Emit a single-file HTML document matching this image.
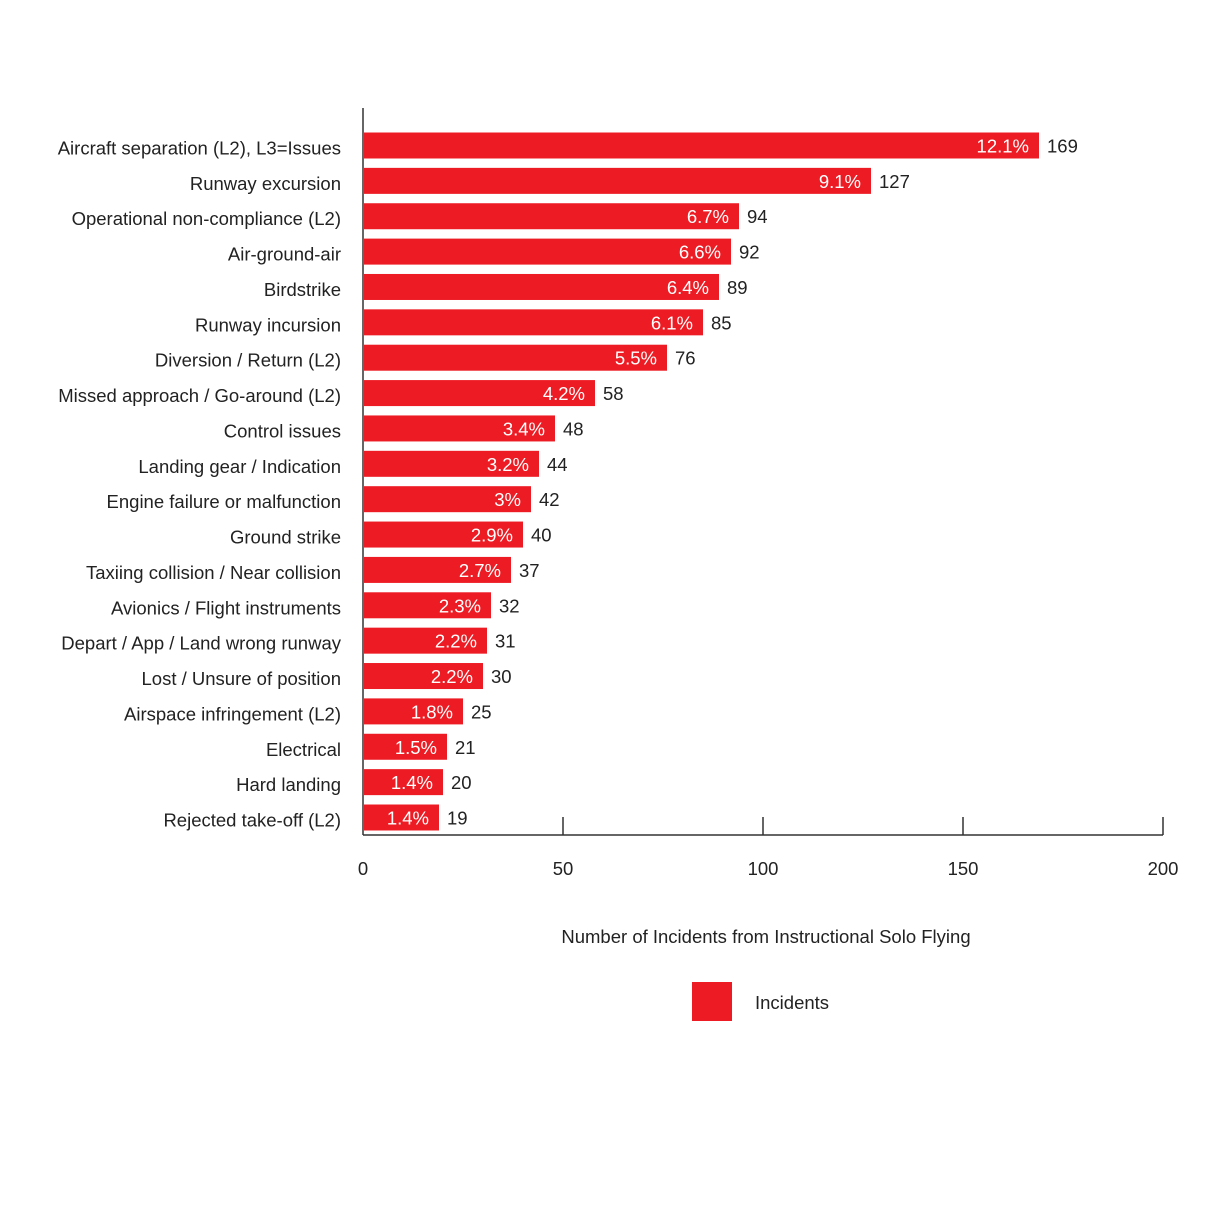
<!DOCTYPE html>
<html><head><meta charset="utf-8"><style>
body{margin:0;background:#fff;}
svg text{font-family:"Liberation Sans",sans-serif;font-size:18.5px;fill:#222;}
</style></head><body>
<svg id="chart" width="1210" height="1210" xmlns="http://www.w3.org/2000/svg">
<g id="bars"></g>
<g id="axis"></g>
<text x="766" y="943" text-anchor="middle">Number of Incidents from Instructional Solo Flying</text>
<rect x="692" y="982" width="40" height="39" fill="#ed1c24"/>
<text x="755" y="1009" font-size="20">Incidents</text>
</svg>
<script>
const categories=["Aircraft separation (L2), L3=Issues","Runway excursion","Operational non-compliance (L2)","Air-ground-air","Birdstrike","Runway incursion","Diversion / Return (L2)","Missed approach / Go-around (L2)","Control issues","Landing gear / Indication","Engine failure or malfunction","Ground strike","Taxiing collision / Near collision","Avionics / Flight instruments","Depart / App / Land wrong runway","Lost / Unsure of position","Airspace infringement (L2)","Electrical","Hard landing","Rejected take-off (L2)"];
const values=[169,127,94,92,89,85,76,58,48,44,42,40,37,32,31,30,25,21,20,19];
const percents=["12.1%","9.1%","6.7%","6.6%","6.4%","6.1%","5.5%","4.2%","3.4%","3.2%","3%","2.9%","2.7%","2.3%","2.2%","2.2%","1.8%","1.5%","1.4%","1.4%"];
const ticks=[0,50,100,150,200];
const NS="http://www.w3.org/2000/svg";
const x0=363,x1=1163,xmax=200;
const xs=v=>x0+(v/xmax)*(x1-x0);
const yTop=145.5,step=(817.5-145.5)/(categories.length-1),bh=26;
const ys=i=>yTop+i*step;
function mk(tag,attrs,parent,txt){const e=document.createElementNS(NS,tag);for(const k in attrs)e.setAttribute(k,attrs[k]);if(txt!==undefined)e.textContent=txt;parent.appendChild(e);return e;}
const gb=document.getElementById('bars'),ga=document.getElementById('axis');
categories.forEach((c,i)=>{
  const cy=ys(i);
  const r=mk('rect',{x:x0+1,y:cy-bh/2,width:xs(values[i])-x0-1,height:bh,fill:'#ed1c24'},gb);
  
  
  const l=mk('text',{x:341,y:cy+9,'text-anchor':'end'},gb,c);
  
  
  const p=mk('text',{x:xs(values[i])-10,y:cy+7,'text-anchor':'end',style:'fill:#fff'},gb,percents[i]);
  
  
  const v=mk('text',{x:xs(values[i])+8,y:cy+7},gb,String(values[i]));
  
  
});
const yl=mk('line',{x1:x0,y1:108,x2:x0,y2:835,stroke:'#333','stroke-width':1.5},ga);


const xl=mk('line',{x1:x0,y1:835,x2:x1,y2:835,stroke:'#333','stroke-width':1.5},ga);


ticks.forEach(t=>{
  if(t>0){const tk=mk('line',{x1:xs(t),y1:817,x2:xs(t),y2:835,stroke:'#333','stroke-width':1.5},ga);
  
  }
  const tl=mk('text',{x:xs(t),y:875,'text-anchor':'middle'},ga,String(t));
  
  
});
</script>
</body></html>
